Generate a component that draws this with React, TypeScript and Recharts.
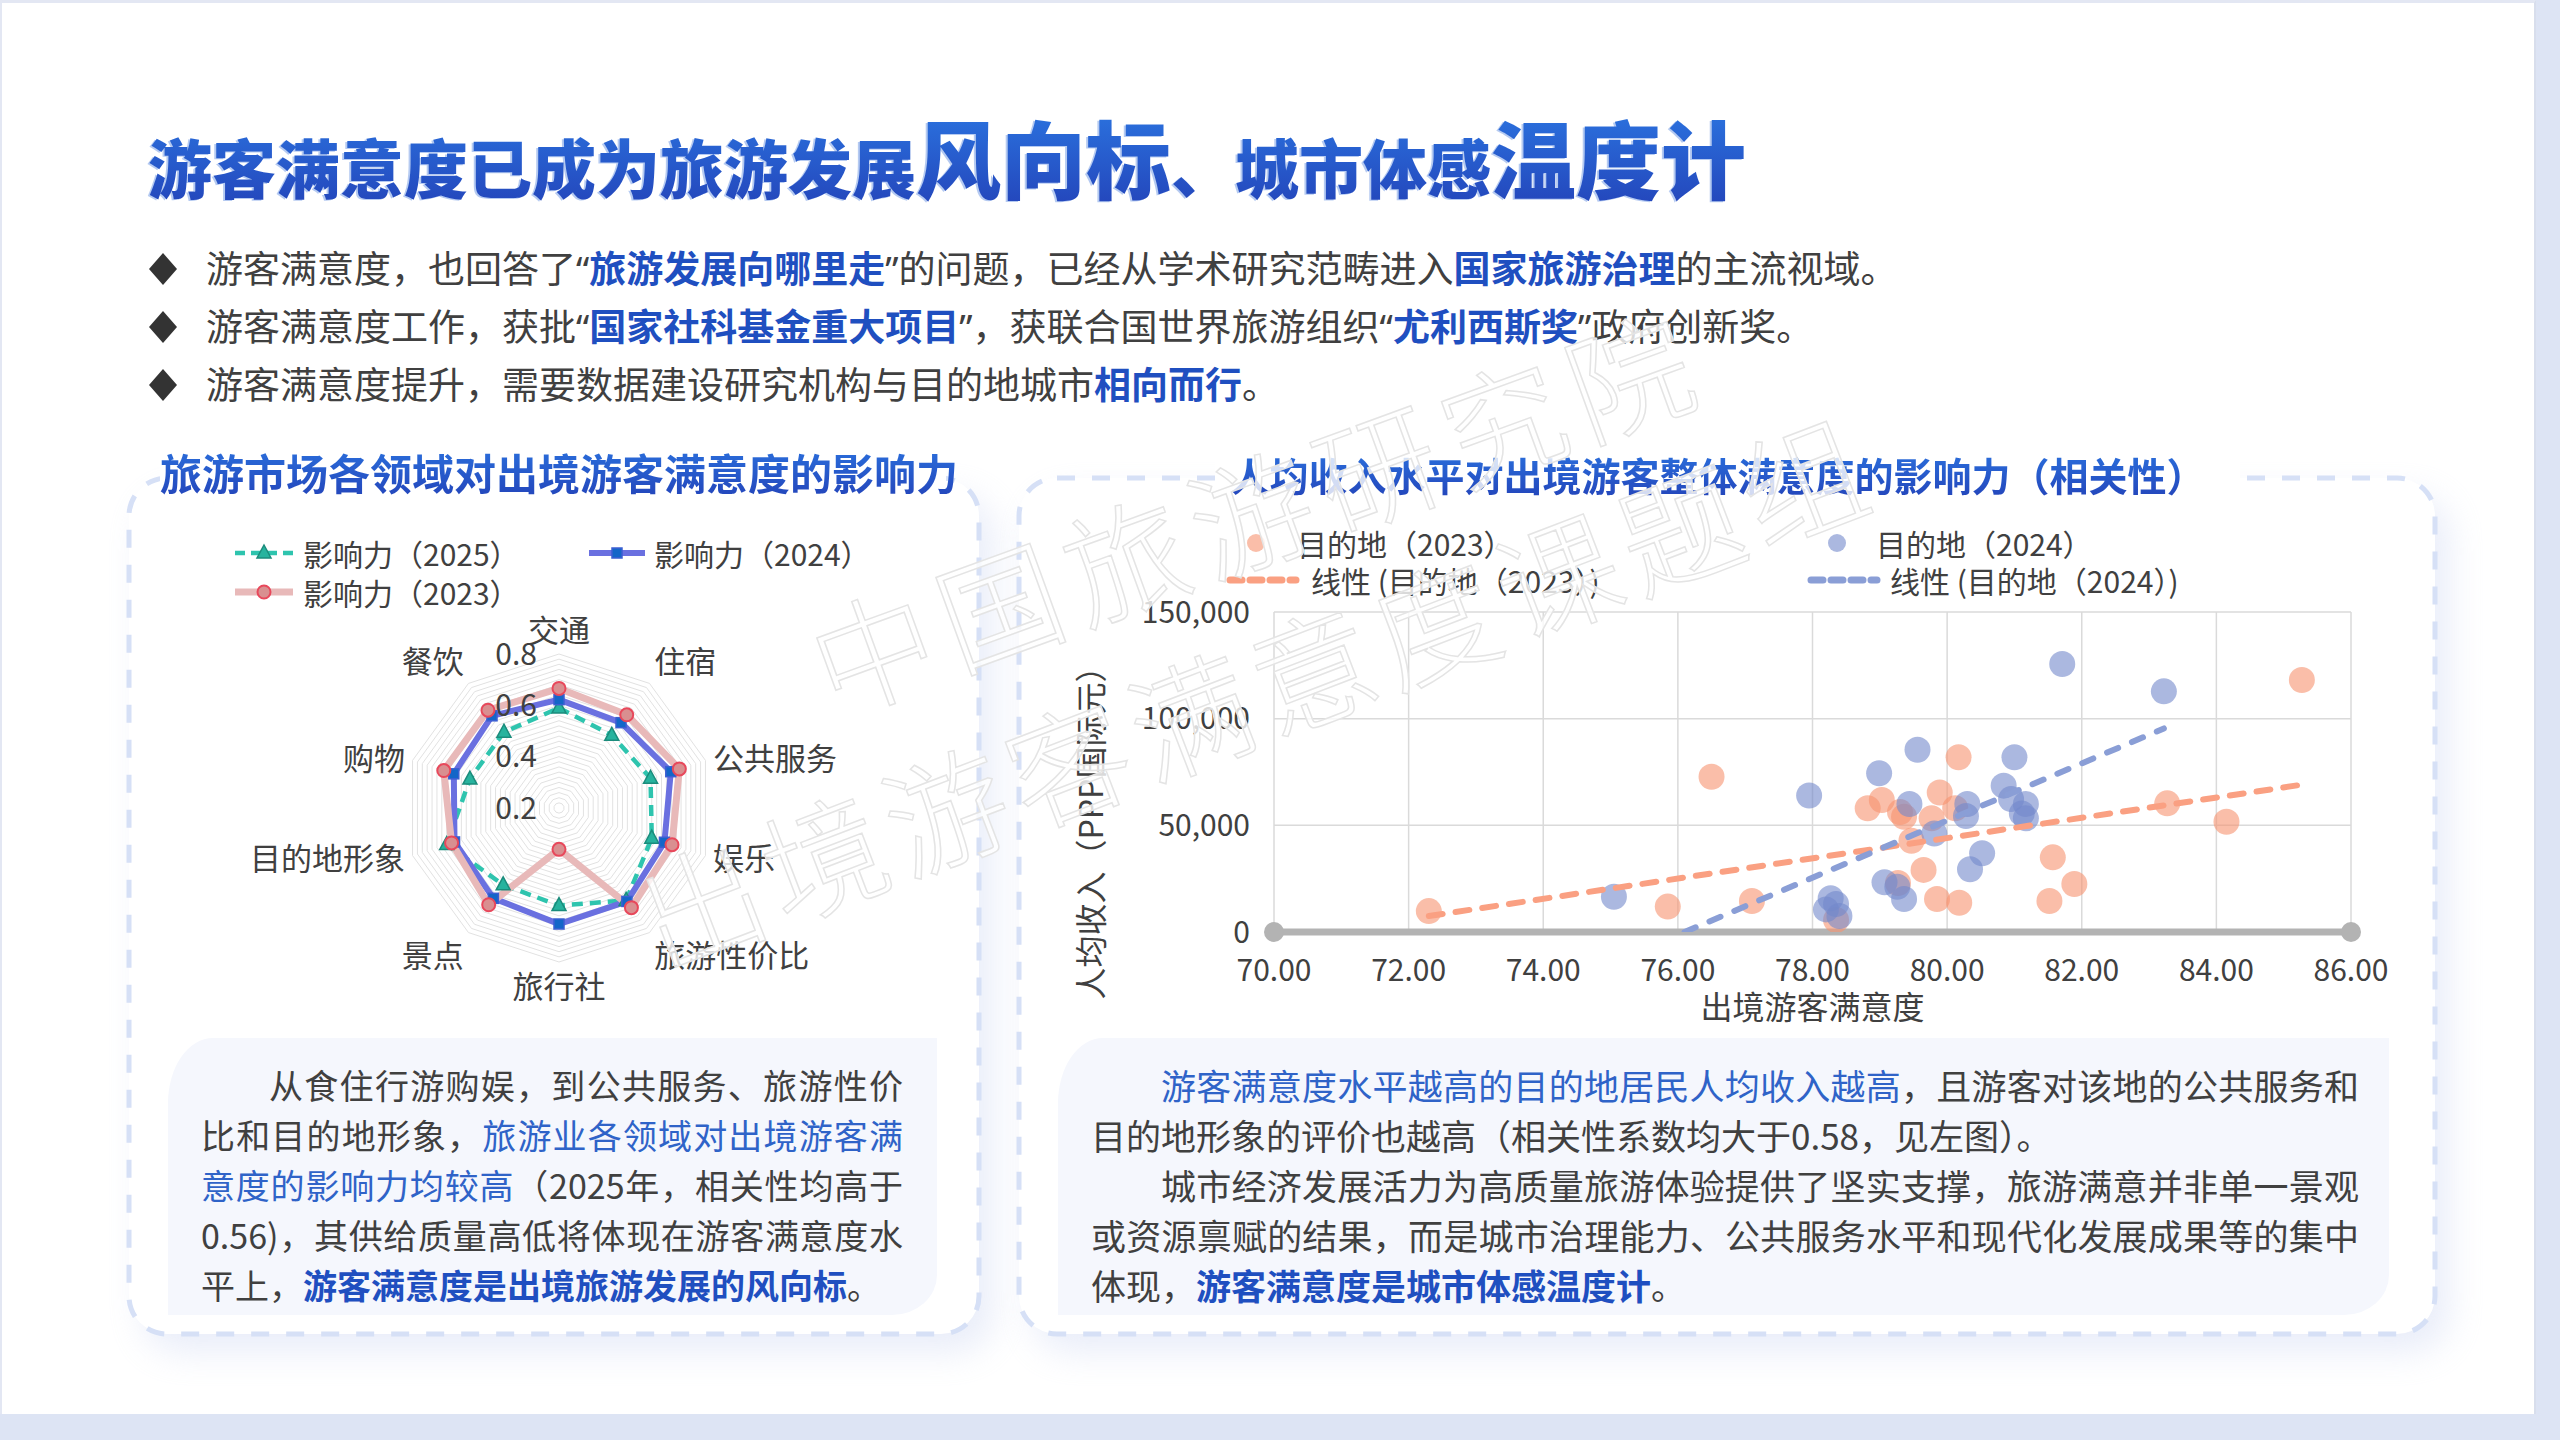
import React from "react";
import {
  RadarChart,
  Radar,
  PolarGrid,
  PolarAngleAxis,
  PolarRadiusAxis,
  ScatterChart,
  Scatter,
  XAxis,
  YAxis,
  CartesianGrid,
  ReferenceDot,
} from "recharts";

const FONT = "'Noto Sans CJK SC', 'Noto Sans', sans-serif";
const LATIN = "'Noto Sans', sans-serif";
const INK = "#404040";
const HL = "#1f4fc0";
const HL_SOFT = "#2f63c8";

// ---- radar: 各领域影响力 ----
const radarCategories = ["交通", "住宿", "公共服务", "娱乐", "旅游性价比", "旅行社", "景点", "目的地形象", "购物", "餐饮"];
const impact2025 = [0.59, 0.55, 0.575, 0.58, 0.645, 0.58, 0.57, 0.66, 0.565, 0.565];
const impact2024 = [0.622, 0.611, 0.658, 0.632, 0.65, 0.652, 0.635, 0.628, 0.631, 0.644];
const impact2023 = [0.666, 0.649, 0.693, 0.663, 0.68, 0.361, 0.666, 0.64, 0.672, 0.671];
const radarLabelTicks = [0.2, 0.4, 0.6, 0.8];
const radarRings = [
  0.2, 0.22, 0.24, 0.26, 0.28, 0.3, 0.32, 0.34, 0.36, 0.38, 0.4, 0.42, 0.44, 0.46, 0.48, 0.5,
  0.52, 0.54, 0.56, 0.58, 0.6, 0.62, 0.64, 0.66, 0.68, 0.7, 0.72, 0.74, 0.76, 0.78, 0.8,
];

// ---- scatter: 满意度 vs 人均收入 ----
const sat2023 = [72.3, 75.85, 76.5, 77.1, 78.35, 78.82, 79.03, 79.27, 79.3, 79.36, 79.47, 79.65, 79.77, 79.85, 79.89, 80.12, 80.17, 80.18, 81.52, 81.57, 81.89, 83.27, 84.15, 85.27];
const income2023 = [9800, 11900, 72800, 14500, 5600, 58000, 61900, 23000, 56200, 54000, 42800, 29100, 53300, 15500, 65400, 58000, 81900, 13700, 14500, 35000, 22500, 60300, 51700, 118100];
const sat2024 = [75.05, 77.95, 78.2, 78.27, 78.35, 78.4, 78.99, 79.07, 79.26, 79.36, 79.44, 79.56, 79.81, 80.28, 80.3, 80.34, 80.52, 80.84, 80.95, 81.0, 81.11, 81.17, 81.17, 81.71, 83.22];
const income2024 = [16500, 64000, 10600, 15800, 13100, 7500, 74400, 23300, 21200, 15500, 60000, 85400, 46200, 54400, 60000, 29400, 36900, 68600, 62300, 81900, 55600, 60000, 53300, 125600, 112800];
const trendSat2023 = [72.3, 85.3];
const trendIncome2023 = [7500, 69200];
const trendSat2024 = [76.1, 83.22];
const trendIncome2024 = [0, 95400];
const xTicks = [70, 72, 74, 76, 78, 80, 82, 84, 86];
const yTicks = [0, 50000, 100000, 150000];

const radarData = radarCategories.map((name, i) => ({
  name,
  v2025: impact2025[i],
  v2024: impact2024[i],
  v2023: impact2023[i],
}));
const points2023 = sat2023.map((x, i) => ({ x, y: income2023[i] }));
const points2024 = sat2024.map((x, i) => ({ x, y: income2024[i] }));
const trend2023 = trendSat2023.map((x, i) => ({ x, y: trendIncome2023[i] }));
const trend2024 = trendSat2024.map((x, i) => ({ x, y: trendIncome2024[i] }));

const RADAR_CX = 429;
const RADAR_CY = 268;

function AngleTick(props: any) {
  const { x, y, payload, textAnchor } = props;
  const off = y - RADAR_CY;
  const dy = off < -60 ? "-0.13em" : off > 60 ? "0.9em" : "0.38em";
  return (
    <text x={x} y={y} dy={dy} textAnchor={textAnchor} fontSize={31} fill={INK} fontFamily={FONT}>
      {payload.value}
    </text>
  );
}

function RadiusTick(props: any) {
  const { x, y, payload } = props;
  const v = Number(payload.value);
  if (!radarLabelTicks.some((t) => Math.abs(t - v) < 1e-6)) return <g />;
  return (
    <text x={x - 22} y={y} dy="0.36em" textAnchor="end" fontSize={30} fill={INK} fontFamily={FONT}>
      {v.toFixed(1)}
    </text>
  );
}

function TriangleDot(p: any) {
  const { cx, cy } = p;
  if (cx == null) return <g />;
  return (
    <path
      d={`M${cx},${cy - 8} L${cx + 7},${cy + 5} L${cx - 7},${cy + 5} Z`}
      fill="#27b39e"
      stroke="#1b8c7c"
      strokeWidth={1.5}
    />
  );
}

function SquareDot(p: any) {
  const { cx, cy } = p;
  if (cx == null) return <g />;
  return <rect x={cx - 5} y={cy - 5} width={10} height={10} fill="#1466c8" stroke="#3b5fd2" strokeWidth={1.5} />;
}

function CircleDot(p: any) {
  const { cx, cy } = p;
  if (cx == null) return <g />;
  return <circle cx={cx} cy={cy} r={6.5} fill="#d98f90" stroke="#e8485b" strokeWidth={2} />;
}

const dot2023 = (p: any) => <circle cx={p.cx} cy={p.cy} r={13} fill="#f7936f" fillOpacity={0.6} />;
const dot2024 = (p: any) => <circle cx={p.cx} cy={p.cy} r={13} fill="#7389cc" fillOpacity={0.6} />;
const noDot = () => <g />;

const yTitle = (p: any) => {
  const vb = p.viewBox;
  const x = vb.x + 51;
  const y = vb.y + 213;
  return (
    <text x={x} y={y} dy="0.38em" transform={`rotate(-90 ${x} ${y})`} textAnchor="middle" fontSize={32} fill={INK} fontFamily={FONT}>
      人均收入（PPP国际元）
    </text>
  );
};

const xTitle = (p: any) => {
  const vb = p.viewBox;
  return (
    <text x={vb.x + vb.width / 2} y={vb.y + 75} dy="0.38em" textAnchor="middle" fontSize={32} fill={INK} fontFamily={FONT}>
      出境游客满意度
    </text>
  );
};

const gradText: React.CSSProperties = {
  backgroundImage: "linear-gradient(180deg, #2b74e0 0%, #2342b8 100%)",
  WebkitBackgroundClip: "text",
  backgroundClip: "text",
  color: "transparent",
};

function Q({ c }: { c: string }) {
  return <span style={{ fontFamily: LATIN }}>{c}</span>;
}

function Hi({ children, bold }: { children: React.ReactNode; bold?: boolean }) {
  return <span style={{ color: bold ? HL : HL_SOFT, fontWeight: bold ? 700 : 400 }}>{children}</span>;
}

function Panel({ x, y, w, h }: { x: number; y: number; w: number; h: number }) {
  return (
    <>
      <div
        style={{
          position: "absolute",
          left: x,
          top: y,
          width: w,
          height: h,
          borderRadius: 38,
          background: "#fff",
          boxShadow: "14px 18px 34px rgba(206,215,242,0.45)",
        }}
      />
      <svg style={{ position: "absolute", left: x - 4, top: y - 4 }} width={w + 8} height={h + 8}>
        <rect x={4} y={4} width={w} height={h} rx={38} fill="none" stroke="#d6e0f6" strokeWidth={5} strokeDasharray="18 17" />
      </svg>
    </>
  );
}

function TextLine({
  top,
  left,
  width,
  size,
  justify,
  indent,
  children,
}: {
  top: number;
  left: number;
  width: number;
  size: number;
  justify?: boolean;
  indent?: boolean;
  children: React.ReactNode;
}) {
  return (
    <div
      style={{
        position: "absolute",
        top,
        left,
        width,
        height: 50,
        lineHeight: "50px",
        fontSize: size,
        color: INK,
        textAlign: justify ? "justify" : "left",
        textAlignLast: justify ? "justify" : "left",
        textIndent: indent ? "2em" : 0,
      }}
    >
      {children}
    </div>
  );
}

function Bullet({ top, children }: { top: number; children: React.ReactNode }) {
  return (
    <>
      <div
        style={{
          position: "absolute",
          left: 149,
          top: top + 27 - 16,
          width: 28,
          height: 32,
          background: "#333",
          clipPath: "polygon(50% 0, 100% 50%, 50% 100%, 0 50%)",
        }}
      />
      <div style={{ position: "absolute", left: 206, top, height: 50, lineHeight: "50px", fontSize: 37, color: INK, whiteSpace: "nowrap" }}>
        {children}
      </div>
    </>
  );
}

export default function App() {
  return (
    <div
      style={{
        position: "absolute",
        left: 0,
        top: 0,
        width: 2560,
        height: 1440,
        background: "#dde4f4",
        overflow: "hidden",
        fontFamily: FONT,
      }}
    >
      <div
        style={{
          position: "absolute",
          left: 0,
          top: 0,
          width: 2536,
          height: 1414,
          background: "#fff",
          borderTop: "3px solid #e3e7f3",
          borderLeft: "2px solid #e3e7f3",
          borderRight: "2px solid #d8deec",
          boxSizing: "border-box",
        }}
      />

      {/* main title */}
      <div
        style={{
          position: "absolute",
          left: 148,
          top: 106,
          lineHeight: "100px",
          fontSize: 85,
          fontWeight: 900,
          whiteSpace: "nowrap",
          filter: "drop-shadow(-2px 1px 0 rgba(150,180,235,0.7))",
          ...gradText,
        }}
      >
        <span style={{ fontSize: 64 }}>游客满意度已成为旅游发展</span>
        <span>风向标</span>
        <span style={{ fontSize: 64 }}>、城市体感</span>
        <span>温度计</span>
      </div>

      {/* bullets */}
      <Bullet top={242}>
        游客满意度，也回答了<Q c="“" />
        <Hi bold>旅游发展向哪里走</Hi>
        <Q c="”" />的问题，已经从学术研究范畴进入<Hi bold>国家旅游治理</Hi>的主流视域。
      </Bullet>
      <Bullet top={300}>
        游客满意度工作，获批<Q c="“" />
        <Hi bold>国家社科基金重大项目</Hi>
        <Q c="”" />，获联合国世界旅游组织<Q c="“" />
        <Hi bold>尤利西斯奖</Hi>
        <Q c="”" />政府创新奖。
      </Bullet>
      <Bullet top={358}>
        游客满意度提升，需要数据建设研究机构与目的地城市<Hi bold>相向而行</Hi>。
      </Bullet>

      {/* panels */}
      <Panel x={129} y={478} w={850} h={856} />
      <Panel x={1019} y={478} w={1416} h={856} />

      {/* panel titles */}
      <div
        style={{
          position: "absolute",
          left: 160,
          top: 442,
          width: 786,
          height: 60,
          lineHeight: "60px",
          background: "#fff",
          textAlign: "center",
          fontSize: 42,
          fontWeight: 700,
          whiteSpace: "nowrap",
        }}
      >
        <span style={gradText}>旅游市场各领域对出境游客满意度的影响力</span>
      </div>
      <div style={{ position: "absolute", left: 1215, top: 460, width: 1025, height: 36, background: "#fff" }} />
      <div
        style={{
          position: "absolute",
          left: 1218,
          top: 444,
          width: 1000,
          height: 60,
          lineHeight: "60px",
          textAlign: "center",
          fontSize: 39,
          fontWeight: 700,
          whiteSpace: "nowrap",
        }}
      >
        <span style={gradText}>人均收入水平对出境游客整体满意度的影响力（相关性）</span>
      </div>

      {/* radar legend */}
      <div style={{ position: "absolute", left: 233, top: 533, height: 40, lineHeight: "40px", fontSize: 30, color: INK, display: "flex", alignItems: "center", whiteSpace: "nowrap" }}>
        <svg width={62} height={24} style={{ marginRight: 8 }}>
          <line x1={2} y1={12} x2={60} y2={12} stroke="#2ec4ae" strokeWidth={4.5} strokeDasharray="10 6" />
          <path d="M31,4 L38,17 L24,17 Z" fill="#27b39e" stroke="#1b8c7c" strokeWidth={1.5} />
        </svg>
        影响力（2025）
      </div>
      <div style={{ position: "absolute", left: 587, top: 533, height: 40, lineHeight: "40px", fontSize: 30, color: INK, display: "flex", alignItems: "center", whiteSpace: "nowrap" }}>
        <svg width={60} height={24} style={{ marginRight: 7 }}>
          <line x1={2} y1={12} x2={58} y2={12} stroke="#6a70e0" strokeWidth={6} />
          <rect x={25} y={7} width={10} height={10} fill="#1466c8" stroke="#3b5fd2" strokeWidth={1.5} />
        </svg>
        影响力（2024）
      </div>
      <div style={{ position: "absolute", left: 233, top: 572, height: 40, lineHeight: "40px", fontSize: 30, color: INK, display: "flex", alignItems: "center", whiteSpace: "nowrap" }}>
        <svg width={62} height={24} style={{ marginRight: 8 }}>
          <line x1={2} y1={12} x2={60} y2={12} stroke="#e8b9b9" strokeWidth={7} />
          <circle cx={31} cy={12} r={6.5} fill="#d98f90" stroke="#e8485b" strokeWidth={2} />
        </svg>
        影响力（2023）
      </div>

      {/* radar chart */}
      <div style={{ position: "absolute", left: 130, top: 540 }}>
        <RadarChart
          width={850}
          height={520}
          cx={RADAR_CX}
          cy={RADAR_CY}
          outerRadius={154}
          data={radarData}
          margin={{ top: 0, right: 0, bottom: 0, left: 0 }}
        >
          <PolarGrid gridType="polygon" radialLines={false} stroke="#e2e2e2" strokeWidth={1} />
          <PolarAngleAxis dataKey="name" tick={AngleTick} tickLine={false} axisLine={false} tickSize={8} />
          <PolarRadiusAxis
            angle={90}
            type="number"
            domain={[0.2, 0.8]}
            allowDataOverflow
            allowDecimals
            tickCount={4}
            ticks={radarRings as any}
            tick={RadiusTick}
            axisLine={false}
            tickLine={false}
          />
          <Radar
            dataKey="v2025"
            stroke="#2ec4ae"
            strokeWidth={4.5}
            strokeDasharray="11 7"
            fill="none"
            fillOpacity={0}
            dot={TriangleDot}
            isAnimationActive={false}
          />
          <Radar
            dataKey="v2024"
            stroke="#6a70e0"
            strokeWidth={6}
            fill="none"
            fillOpacity={0}
            dot={SquareDot}
            isAnimationActive={false}
          />
          <Radar
            dataKey="v2023"
            stroke="#e8b9b9"
            strokeWidth={7}
            fill="none"
            fillOpacity={0}
            dot={CircleDot}
            isAnimationActive={false}
          />
        </RadarChart>
      </div>

      {/* scatter legend */}
      <div style={{ position: "absolute", left: 1244, top: 523, height: 40, lineHeight: "40px", fontSize: 30, color: INK, display: "flex", alignItems: "center", whiteSpace: "nowrap" }}>
        <svg width={24} height={24} style={{ marginRight: 29 }}>
          <circle cx={12} cy={12} r={9} fill="#f7936f" fillOpacity={0.6} />
        </svg>
        目的地（2023）
      </div>
      <div style={{ position: "absolute", left: 1825, top: 523, height: 40, lineHeight: "40px", fontSize: 30, color: INK, display: "flex", alignItems: "center", whiteSpace: "nowrap" }}>
        <svg width={24} height={24} style={{ marginRight: 27 }}>
          <circle cx={12} cy={12} r={9} fill="#7389cc" fillOpacity={0.6} />
        </svg>
        目的地（2024）
      </div>
      <div style={{ position: "absolute", left: 1226, top: 560, height: 40, lineHeight: "40px", fontSize: 30, color: INK, display: "flex", alignItems: "center", whiteSpace: "nowrap" }}>
        <svg width={74} height={20} style={{ marginRight: 11 }}>
          <line x1={4} y1={10} x2={70} y2={10} stroke="#faa082" strokeWidth={7} strokeDasharray="12 8" strokeLinecap="round" />
        </svg>
        线性 (目的地（2023）)
      </div>
      <div style={{ position: "absolute", left: 1807, top: 560, height: 40, lineHeight: "40px", fontSize: 30, color: INK, display: "flex", alignItems: "center", whiteSpace: "nowrap" }}>
        <svg width={74} height={20} style={{ marginRight: 9 }}>
          <line x1={4} y1={10} x2={70} y2={10} stroke="#8a9ed6" strokeWidth={7} strokeDasharray="12 8" strokeLinecap="round" />
        </svg>
        线性 (目的地（2024）)
      </div>

      {/* scatter chart */}
      <div style={{ position: "absolute", left: 1040, top: 560 }}>
        <ScatterChart width={1380} height={480} margin={{ top: 52, right: 69, bottom: 0, left: 0 }}>
          <CartesianGrid stroke="#dadada" strokeWidth={1.5} />
          <XAxis
            type="number"
            dataKey="x"
            domain={[70, 86]}
            ticks={xTicks}
            interval={0}
            tickFormatter={(v: number) => v.toFixed(2)}
            axisLine={{ stroke: "#b3b3b3", strokeWidth: 7 }}
            tickLine={false}
            tickSize={0}
            tickMargin={28}
            height={108}
            tick={{ fontSize: 30, fill: INK, fontFamily: FONT }}
            label={xTitle}
            allowDataOverflow
          />
          <YAxis
            type="number"
            dataKey="y"
            domain={[0, 150000]}
            ticks={yTicks}
            interval={0}
            tickFormatter={(v: number) => v.toLocaleString("en-US")}
            axisLine={false}
            tickLine={false}
            tickSize={0}
            tickMargin={24}
            width={234}
            tick={{ fontSize: 30, fill: INK, fontFamily: FONT }}
            label={yTitle}
            allowDataOverflow
          />
          <ReferenceDot x={70} y={0} r={10} fill="#b3b3b3" stroke="none" ifOverflow="visible" />
          <ReferenceDot x={86} y={0} r={10} fill="#b3b3b3" stroke="none" ifOverflow="visible" />
          <Scatter data={points2023} shape={dot2023} isAnimationActive={false} />
          <Scatter data={points2024} shape={dot2024} isAnimationActive={false} />
          <Scatter
            data={trend2023}
            fill="none"
            shape={noDot}
            line={{ stroke: "#faa082", strokeWidth: 6, strokeDasharray: "14 13", strokeLinecap: "round" }}
            isAnimationActive={false}
          />
          <Scatter
            data={trend2024}
            fill="none"
            shape={noDot}
            line={{ stroke: "#8a9ed6", strokeWidth: 6, strokeDasharray: "12 15", strokeLinecap: "round" }}
            isAnimationActive={false}
          />
        </ScatterChart>
      </div>

      {/* text boxes */}
      <div style={{ position: "absolute", left: 168, top: 1038, width: 769, height: 277, background: "#f5f7fd", borderRadius: "45px 0 45px 0 / 65px 0 40px 0" }} />
      <div style={{ position: "absolute", left: 1058, top: 1038, width: 1331, height: 277, background: "#f5f7fd", borderRadius: "45px 0 45px 0 / 65px 0 40px 0" }} />

      <TextLine top={1060} left={201} width={702} size={34} justify indent>
        从食住行游购娱，到公共服务、旅游性价
      </TextLine>
      <TextLine top={1110} left={201} width={702} size={34} justify>
        比和目的地形象，<Hi>旅游业各领域对出境游客满</Hi>
      </TextLine>
      <TextLine top={1160} left={201} width={702} size={34} justify>
        <Hi>意度的影响力均较高</Hi>（2025年，相关性均高于
      </TextLine>
      <TextLine top={1210} left={201} width={702} size={34} justify>
        0.56)，其供给质量高低将体现在游客满意度水
      </TextLine>
      <TextLine top={1260} left={201} width={702} size={34}>
        平上，<Hi bold>游客满意度是出境旅游发展的风向标</Hi>。
      </TextLine>

      <TextLine top={1060} left={1091} width={1268} size={35} justify indent>
        <Hi>游客满意度水平越高的目的地居民人均收入越高</Hi>，且游客对该地的公共服务和
      </TextLine>
      <TextLine top={1110} left={1091} width={1268} size={35}>
        目的地形象的评价也越高（相关性系数均大于0.58，见左图）。
      </TextLine>
      <TextLine top={1160} left={1091} width={1268} size={35} justify indent>
        城市经济发展活力为高质量旅游体验提供了坚实支撑，旅游满意并非单一景观
      </TextLine>
      <TextLine top={1210} left={1091} width={1268} size={35} justify>
        或资源禀赋的结果，而是城市治理能力、公共服务水平和现代化发展成果等的集中
      </TextLine>
      <TextLine top={1260} left={1091} width={1268} size={35}>
        体现，<Hi bold>游客满意度是城市体感温度计</Hi>。
      </TextLine>

      {/* watermark */}
      <svg style={{ position: "absolute", left: 0, top: 0, pointerEvents: "none" }} width={2560} height={1440}>
        <g fontFamily={FONT} fontSize={122} fontWeight={300} fill="#ffffff" fillOpacity={0.8} stroke="#e4e4e4" strokeWidth={1.5}>
          <text x={874 - 61} y={653 + 46} letterSpacing={12} transform="rotate(-20 874 653)">
            中国旅游研究院
          </text>
          <text x={702 - 61} y={906 + 46} letterSpacing={9} transform="rotate(-21 702 906)">
            出境游客满意度课题组
          </text>
        </g>
      </svg>
    </div>
  );
}
